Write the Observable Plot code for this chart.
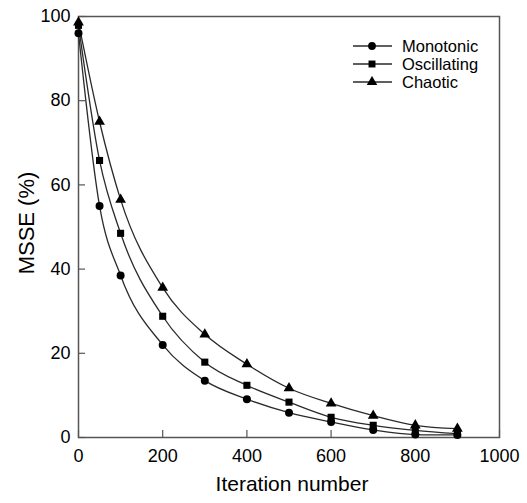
<!DOCTYPE html>
<html>
<head>
<meta charset="utf-8">
<script src="https://cdn.jsdelivr.net/npm/d3@7"></script>
<script src="https://cdn.jsdelivr.net/npm/@observablehq/plot@0.6"></script>
<style>
  body { margin: 0; background: #fff; }
  #wrap { position: relative; width: 527px; height: 503px; font-family: "Liberation Sans", Arial, sans-serif; }
  #legend { position: absolute; left: 353px; top: 37px; font-size: 16.5px; color: #000; line-height: 18px; }
  #legend div { display: flex; align-items: center; height: 18px; }
  #legend svg { margin-right: 9px; }
</style>
</head>
<body>
<div id="wrap"></div>
<script>
const iterations = [0, 50, 100, 200, 300, 400, 500, 600, 700, 800, 900];
const monotonic  = [96.0, 55.0, 38.5, 22.0, 13.5, 9.1, 5.9, 3.7, 1.8, 0.7, 0.6];
const oscillating = [97.9, 65.8, 48.5, 28.8, 17.9, 12.4, 8.4, 4.8, 2.9, 1.7, 0.9];
const chaotic    = [98.6, 75.0, 56.5, 35.6, 24.5, 17.4, 11.7, 8.1, 5.2, 2.9, 2.1];
const seriesNames = ["Monotonic", "Oscillating", "Chaotic"];
const symbols = ["circle", "square", "triangle"];
const xTicks = [0, 200, 400, 600, 800, 1000];
const yTicks = [0, 20, 40, 60, 80, 100];

const seriesValues = [monotonic, oscillating, chaotic];
const data = [];
seriesNames.forEach((s, si) => iterations.forEach((x, i) => data.push({series: s, x, y: seriesValues[si][i]})));

const W = 527, H = 503, mL = 78, mR = 28, mT = 16, mB = 66;
const frameW = W - mL - mR, frameH = H - mT - mB, tickLen = 7;
const ink = "#2a2a2a";

const chart = Plot.plot({
  width: W,
  height: H,
  marginLeft: mL,
  marginRight: mR,
  marginTop: mT,
  marginBottom: mB,
  style: {fontFamily: "Liberation Sans, Arial, sans-serif", fontSize: "18px", color: "#000", overflow: "visible"},
  x: {domain: [0, 1000]},
  y: {domain: [0, 100]},
  symbol: {domain: seriesNames, range: symbols},
  marks: [
    Plot.axisX({ticks: xTicks, tickSize: 0, tickPadding: 12, fontSize: 18, label: null, tickFormat: d => String(d)}),
    Plot.axisY({ticks: yTicks, tickSize: 0, tickPadding: 8, fontSize: 18, label: null, tickFormat: d => String(d)}),
    Plot.ruleX(xTicks, {x: d => d, insetTop: frameH - tickLen, stroke: "#555", strokeWidth: 1.2}),
    Plot.ruleY(yTicks, {y: d => d, insetRight: frameW - tickLen, stroke: "#555", strokeWidth: 1.2}),
    Plot.frame({stroke: "#555", strokeWidth: 1.5}),
    Plot.line(data, {x: "x", y: "y", z: "series", curve: "monotone-x", stroke: ink, strokeWidth: 1.3}),
    Plot.dot(data, {x: "x", y: "y", symbol: "series", fill: "#000", stroke: "none", r: 4}),
    Plot.text(["Iteration number"], {text: d => d, frameAnchor: "bottom", textAnchor: "middle", dx: 3, dy: 53, fontSize: 21, fill: "#000"}),
    Plot.text(["MSSE (%)"], {text: d => d, frameAnchor: "left", textAnchor: "middle", dx: -52, dy: -4, rotate: -90, fontSize: 22, fill: "#000"})
  ]
});

const wrap = document.getElementById("wrap");
wrap.appendChild(chart);

// Legend
const leg = document.createElement("div");
leg.id = "legend";
seriesNames.forEach((s, i) => {
  const row = document.createElement("div");
  const svg = d3.create("svg").attr("width", 40).attr("height", 12);
  svg.append("line").attr("x1", 0).attr("x2", 39).attr("y1", 6).attr("y2", 6).attr("stroke", ink).attr("stroke-width", 1.3);
  svg.append("path").attr("transform", "translate(19,6)").attr("d", d3.symbol([d3.symbolCircle, d3.symbolSquare, d3.symbolTriangle][i], 48)()).attr("fill", "#000");
  row.appendChild(svg.node());
  const t = document.createElement("span");
  t.textContent = s;
  row.appendChild(t);
  leg.appendChild(row);
});
wrap.appendChild(leg);
</script>
</body>
</html>
